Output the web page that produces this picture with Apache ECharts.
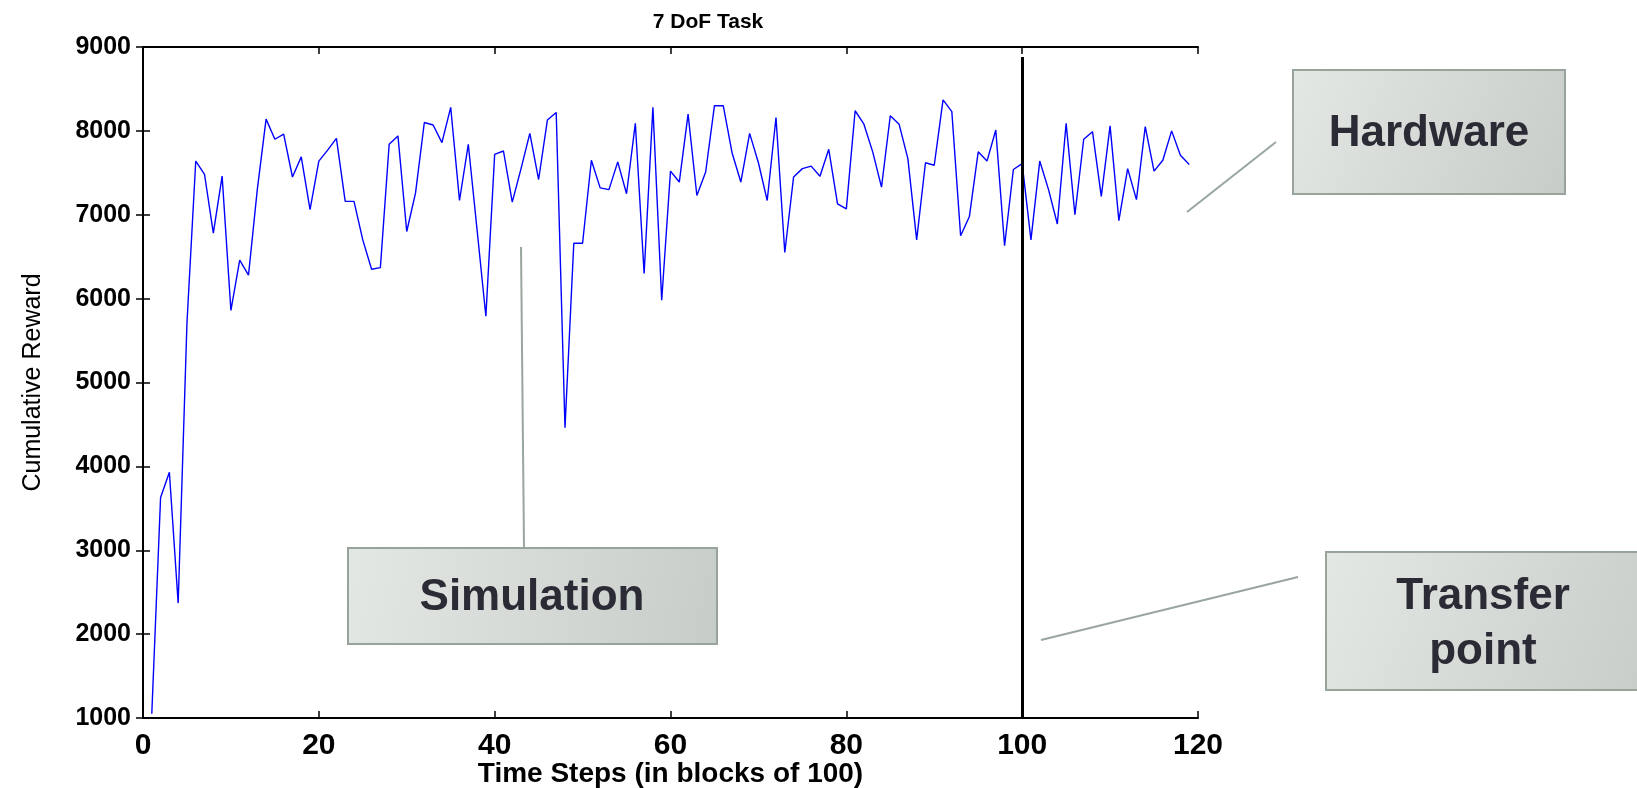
<!DOCTYPE html>
<html>
<head>
<meta charset="utf-8">
<script src="https://cdn.jsdelivr.net/npm/echarts@6/dist/echarts.min.js"></script>
<style>
  html, body { margin: 0; padding: 0; background: #fff; }
  #chart { width: 1637px; height: 788px; }
</style>
</head>
<body>
<div id="chart"></div>
<script>
// time steps (blocks of 100) and cumulative reward
const steps = [];
for (let i = 1; i <= 119; i++) steps.push(i);
const reward = [
  1050, 3630, 3930, 2370, 5710, 7640, 7480, 6780, 7460, 5860,
  6460, 6280, 7300, 8140, 7900, 7960, 7450, 7690, 7060, 7640,
  7770, 7910, 7160, 7160, 6700, 6350, 6370, 7840, 7940, 6800,
  7260, 8100, 8070, 7860, 8280, 7170, 7840, 6820, 5790, 7720,
  7760, 7150, 7550, 7970, 7420, 8130, 8220, 4460, 6660, 6660,
  7650, 7320, 7300, 7630, 7250, 8090, 6300, 8280, 5980, 7520,
  7390, 8200, 7230, 7510, 8300, 8300, 7740, 7390, 7970, 7620,
  7170, 8160, 6550, 7450, 7550, 7580, 7460, 7780, 7130, 7070,
  8240, 8080, 7750, 7330, 8180, 8080, 7670, 6700, 7620, 7590,
  8370, 8230, 6750, 6980, 7750, 7640, 8010, 6630, 7540, 7610,
  6700, 7640, 7300, 6890, 8090, 7000, 7900, 7990, 7220, 8060,
  6930, 7550, 7180, 8050, 7520, 7650, 8000, 7710, 7600
];
// transfer from simulation to hardware
const transferStep = 100;
const transferRange = [1000, 8880];

const chart = echarts.init(document.getElementById('chart'));

const font = 'Liberation Sans, Arial, sans-serif';
const boxFill = new echarts.graphic.LinearGradient(0, 0, 1, 1, [
  { offset: 0, color: '#e4e8e5' },
  { offset: 1, color: '#c6ccc8' }
]);
const boxStroke = '#97a39b';

function noteBox(x, y, w, h, lines, tx, ty) {
  return [
    {
      type: 'rect',
      shape: { x: x, y: y, width: w, height: h },
      style: { fill: boxFill, stroke: boxStroke, lineWidth: 2 },
      z: 10
    },
    {
      type: 'text',
      x: tx, y: ty,
      style: {
        text: lines, fill: '#2b2b35', font: 'bold 44px ' + font,
        align: 'center', verticalAlign: 'middle', lineHeight: 55
      },
      z: 11
    }
  ];
}

function leader(x1, y1, x2, y2) {
  return {
    type: 'line',
    shape: { x1: x1, y1: y1, x2: x2, y2: y2 },
    style: { stroke: '#98a69d', lineWidth: 2 },
    z: 9
  };
}

const axisLine = { show: true, lineStyle: { color: '#000', width: 2 } };
const tickStyle = { show: true, inside: true, length: 7, lineStyle: { color: '#000', width: 1.5 } };

chart.setOption({
  animation: false,
  backgroundColor: '#fff',
  title: {
    text: '7 DoF Task',
    left: 703, top: 7, textAlign: 'center',
    textStyle: { fontFamily: font, fontWeight: 'bold', fontSize: 21, color: '#000' }
  },
  grid: { left: 143, right: 439, top: 47, bottom: 70, containLabel: false, outerBoundsMode: 'none' },
  xAxis: [
    {
      type: 'value', min: 0, max: 120, interval: 20,
      name: 'Time Steps (in blocks of 100)', nameLocation: 'middle', nameGap: 42,
      nameMoveOverlap: false,
      nameTextStyle: { fontFamily: font, fontWeight: 'bold', fontSize: 28, color: '#000' },
      axisLine: axisLine, axisTick: tickStyle,
      axisLabel: { fontFamily: font, fontWeight: 'bold', fontSize: 30, color: '#000', margin: 13 },
      splitLine: { show: false }
    },
    {
      type: 'value', position: 'top', min: 0, max: 120, interval: 20,
      axisLine: axisLine, axisTick: tickStyle,
      axisLabel: { show: false }, splitLine: { show: false }
    }
  ],
  yAxis: [
    {
      type: 'value', min: 1000, max: 9000, interval: 1000,
      name: 'Cumulative Reward', nameLocation: 'middle', nameGap: 97,
      nameMoveOverlap: false,
      nameTextStyle: { fontFamily: font, fontSize: 25, color: '#000' },
      axisLine: axisLine, axisTick: tickStyle,
      axisLabel: {
        fontFamily: font, fontWeight: 'bold', fontSize: 25, color: '#000', margin: 12,
        formatter: v => String(v)
      },
      splitLine: { show: false }
    },
    {
      type: 'value', position: 'right', min: 1000, max: 9000, interval: 1000,
      axisLine: axisLine, axisTick: tickStyle,
      axisLabel: { show: false }, splitLine: { show: false }
    }
  ],
  series: [
    {
      type: 'line',
      data: steps.map((s, i) => [s, reward[i]]),
      showSymbol: false,
      lineStyle: { color: '#0000ff', width: 1.4 },
      markLine: {
        silent: true,
        symbol: ['none', 'none'],
        label: { show: false },
        lineStyle: { color: '#000', width: 3, type: 'solid' },
        data: [[
          { coord: [transferStep, transferRange[0]] },
          { coord: [transferStep, transferRange[1]] }
        ]]
      }
    }
  ],
  graphic: [
    leader(521, 247, 524, 548),
    leader(1276, 142, 1187, 212),
    leader(1298, 577, 1041, 640),
    ...noteBox(348, 548, 369, 96, 'Simulation', 532, 598),
    ...noteBox(1293, 70, 272, 124, 'Hardware', 1429, 134),
    ...noteBox(1326, 552, 330, 138, 'Transfer\npoint', 1483, 624)
  ]
});
</script>
</body>
</html>
